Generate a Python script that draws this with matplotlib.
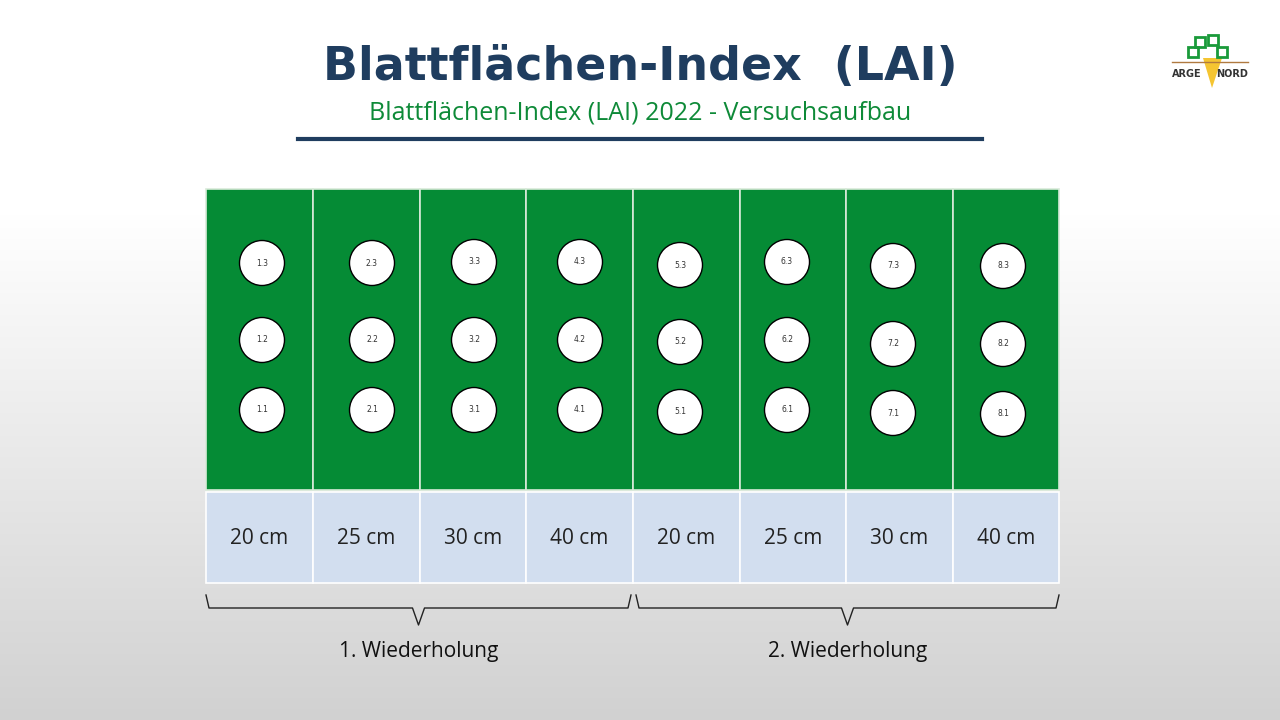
import numpy as np
import matplotlib.pyplot as plt
from matplotlib.patches import Rectangle, Circle, Polygon

# plot layout data (pixel positions)
plot_edges = [206, 313, 420, 526, 633, 740, 846, 953, 1059]
spacing_labels = ["20 cm", "25 cm", "30 cm", "40 cm", "20 cm", "25 cm", "30 cm", "40 cm"]
circle_x = [262, 372, 474, 580, 680, 787, 893, 1003]
circle_y = [[410, 340, 263], [410, 340, 263], [410, 340, 262], [410, 340, 262],
            [412, 342, 265], [410, 340, 262], [413, 344, 266], [414, 344, 266]]
groups = [("1. Wiederholung", 206, 631), ("2. Wiederholung", 636, 1059)]

fig = plt.figure(figsize=(12.8, 7.2), dpi=100)
ax = fig.add_axes([0, 0, 1, 1])
ax.set_xlim(0, 1280)
ax.set_ylim(720, 0)
ax.axis("off")

# vertical background gradient: white on top, light grey at the bottom
grad = np.linspace(0, 1, 256)
vals = np.where(grad < 0.3, 1.0, 1.0 - (grad - 0.3) / 0.7 * 0.18)
img = np.repeat(vals[:, None], 2, axis=1)
ax.imshow(np.dstack([img, img, img]), extent=[0, 1280, 720, 0], aspect="auto", zorder=0)

ax.text(640, 67, "Blattflächen-Index  (LAI)", ha="center", va="center", fontsize=33,
        fontweight="bold", color="#1f3d5f", family="DejaVu Sans")
ax.text(640, 113, "Blattflächen-Index (LAI) 2022 - Versuchsaufbau", ha="center", va="center",
        fontsize=18, color="#0e8a38", family="Open Sans")
ax.plot([298, 982], [139, 139], color="#1f3d5f", lw=3)

for i in range(8):
    x0, x1 = plot_edges[i], plot_edges[i + 1]
    ax.add_patch(Rectangle((x0, 189), x1 - x0, 301, facecolor="#058b35",
                           edgecolor="#d9ead9", lw=1.2, zorder=2))
    ax.add_patch(Rectangle((x0, 492), x1 - x0, 91, facecolor="#d2deef",
                           edgecolor="white", lw=1.2, zorder=2))
    ax.text((x0 + x1) / 2, 538, spacing_labels[i], ha="center", va="center",
            fontsize=15, color="#222222", family="Open Sans", zorder=3)
    for j, cy in enumerate(circle_y[i]):
        ax.add_patch(Circle((circle_x[i], cy), 22.5, facecolor="white",
                            edgecolor="black", lw=1, zorder=3))
        ax.text(circle_x[i], cy, f"{i + 1}.{j + 1}", ha="center", va="center",
                fontsize=5.5, color="#333333", zorder=4)

# braces
for label, a, b in groups:
    m = (a + b) / 2
    ax.plot([a, a + 3, m - 6, m, m + 6, b - 3, b],
            [595, 608, 608, 625, 608, 608, 595], color="#222222", lw=1)
    ax.text(m, 652, label, ha="center", va="center", fontsize=15,
            color="#111111", family="Open Sans")

# logo
ax.plot([1172, 1248], [62, 62], color="#b07a40", lw=1)
ax.add_patch(Polygon([[1203, 58], [1222, 58], [1212, 88]], facecolor="#f5c531", edgecolor="none"))
for px, py in [(1200, 42), (1213, 40), (1193, 52), (1222, 52)]:
    ax.add_patch(Rectangle((px - 5, py - 5), 10, 10, facecolor="none", edgecolor="#1a9a3a", lw=2))
ax.text(1187, 74, "ARGE", ha="center", va="center", fontsize=7, fontweight="bold", color="#333")
ax.text(1232, 74, "NORD", ha="center", va="center", fontsize=7, fontweight="bold", color="#333")

fig.savefig("out.png", dpi=100)
